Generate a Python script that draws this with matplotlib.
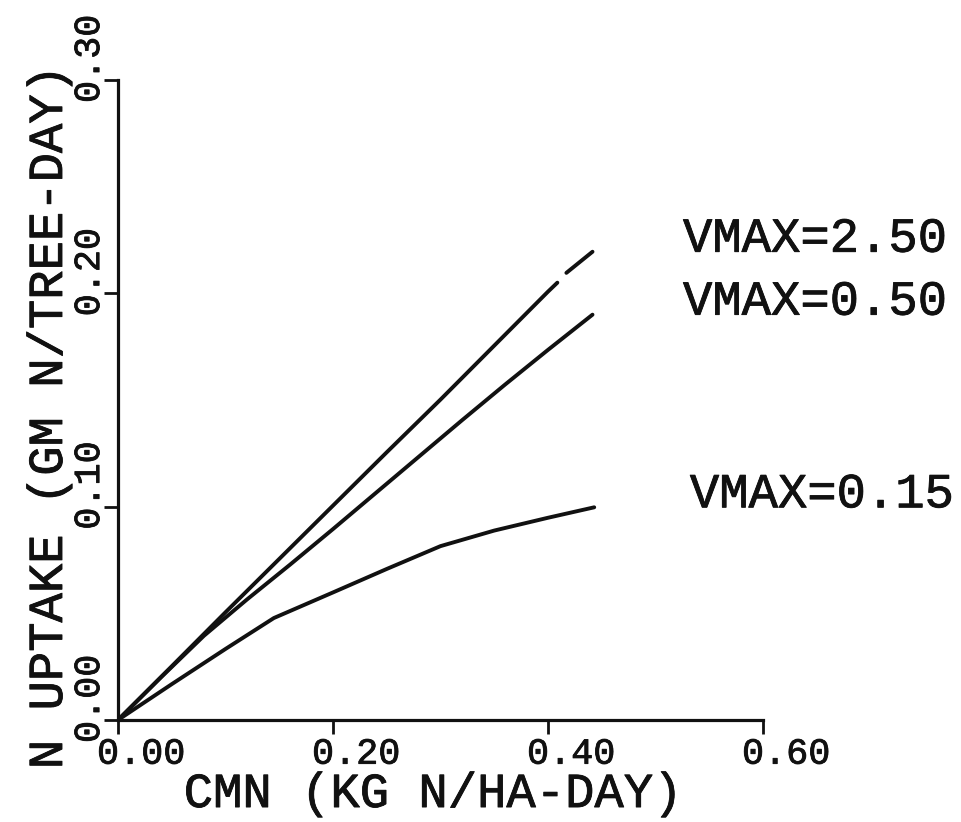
import numpy as np
import matplotlib
matplotlib.use("Agg")
import matplotlib.pyplot as plt
import matplotlib.patheffects as pe
from matplotlib.transforms import ScaledTranslation

plt.rcParams['font.family'] = ['Liberation Mono', 'DejaVu Sans Mono']

# Nitrogen supply rate CMN (kg N / ha-day) and uptake (gm N / tree-day)
# VMAX = 2.50 (pen lift near the end of the trace kept as a NaN break)
cmn_v250 = [0.0, 0.05, 0.10, 0.15, 0.20, 0.25, 0.30, 0.35, 0.40, 0.4087, 0.413, 0.4171, 0.4414]
upt_v250 = [0.0, 0.0252, 0.0505, 0.0755, 0.1005, 0.1255, 0.1502, 0.1755, 0.2008, 0.2050, np.nan, 0.2096, 0.2195]

# VMAX = 0.50
cmn_v050 = [0.0, 0.04, 0.08, 0.12, 0.16, 0.20, 0.24, 0.28, 0.32, 0.36, 0.40, 0.4414]
upt_v050 = [0.0, 0.0200, 0.0395, 0.0565, 0.0728, 0.0895, 0.1065, 0.1235, 0.1405, 0.1572, 0.1735, 0.1900]

# VMAX = 0.15
cmn_v015 = [0.0, 0.05, 0.10, 0.145, 0.20, 0.25, 0.30, 0.35, 0.40, 0.443]
upt_v015 = [0.0, 0.0168, 0.0333, 0.0478, 0.0598, 0.0708, 0.0815, 0.0888, 0.0948, 0.0997]

series_labels = ["VMAX=2.50", "VMAX=0.50", "VMAX=0.15"]
label_x = [0.5256, 0.5256, 0.532]

x_ticks = [0.0, 0.2, 0.4, 0.6]
x_ticklabels = ["0.00", "0.20", "0.40", "0.60"]
y_ticks = [0.0, 0.1, 0.2, 0.3]
y_ticklabels = ["0.00", "0.10", "0.20", "0.30"]

x_title = "CMN (KG N/HA-DAY)"
y_title = "N UPTAKE (GM N/TREE-DAY)"

ink = "#111111"
# slightly heavier strokes, like a pen plotter's lettering
pen = [pe.withStroke(linewidth=0.6, foreground=ink)]

fig = plt.figure(figsize=(9.61, 8.22), dpi=100)
ax = fig.add_axes([118 / 961, 1 - 720 / 822, 645 / 961, 640 / 822])

for xs, ys in [(cmn_v250, upt_v250), (cmn_v050, upt_v050), (cmn_v015, upt_v015)]:
    ax.plot(xs, ys, color=ink, lw=2.8, solid_capstyle='round', solid_joinstyle='round')

ax.set_xlim(0, 0.6)
ax.set_ylim(0, 0.3)
for side in ("top", "right"):
    ax.spines[side].set_visible(False)
for side in ("left", "bottom"):
    ax.spines[side].set_linewidth(2.3)
    ax.spines[side].set_color(ink)

ax.tick_params(direction='out', length=10, width=2.0, color=ink,
               labelsize=26.5, labelcolor=ink)
ax.tick_params(axis='y', pad=3.6)
ax.tick_params(axis='x', pad=2.0)

ax.set_xticks(x_ticks)
ax.set_xticklabels(x_ticklabels)
ax.set_yticks(y_ticks)
ax.set_yticklabels(y_ticklabels)

# plotter-style tick labels: numbers start just before the tick mark
for lab in ax.get_xticklabels():
    lab.set_ha('left')
    lab.set_path_effects(pen)
    lab.set_transform(lab.get_transform() + ScaledTranslation(-0.21, 0, fig.dpi_scale_trans))
for lab in ax.get_yticklabels():
    lab.set_rotation(90)
    lab.set_rotation_mode('anchor')
    lab.set_ha('left')
    lab.set_va('baseline')
    lab.set_path_effects(pen)
    lab.set_transform(lab.get_transform() + ScaledTranslation(0, -0.23, fig.dpi_scale_trans))

ax.set_xlabel(x_title, fontsize=35.2, color=ink, path_effects=pen)
ax.xaxis.label.set_va('baseline')
ax.xaxis.set_label_coords(0.489, -0.136)

ax.set_ylabel(y_title, fontsize=35.2, color=ink, path_effects=pen)
ax.yaxis.label.set_va('baseline')
ax.yaxis.set_label_coords(-0.0868, 0.474)

# curve labels sit on the level where each curve ends
for text, xs, ys, lx in zip(series_labels,
                            [cmn_v250, cmn_v050, cmn_v015],
                            [upt_v250, upt_v050, upt_v015], label_x):
    ax.text(lx, ys[-1], text, fontsize=35.2, color=ink, ha='left', va='baseline',
            clip_on=False, path_effects=pen)

fig.savefig("out.png", dpi=100, facecolor="white")
